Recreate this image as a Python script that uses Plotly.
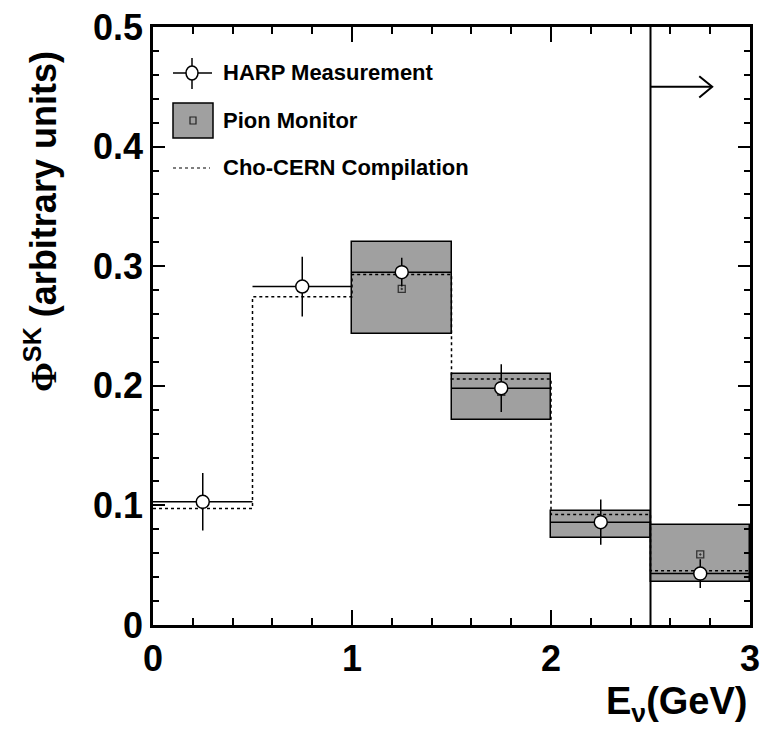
import plotly.graph_objects as go

# Energy binning (GeV)
bin_edges = [0.0, 0.5, 1.0, 1.5, 2.0, 2.5, 3.0]
bin_centers = [0.25, 0.75, 1.25, 1.75, 2.25, 2.75]
half_width = [0.25, 0.25, 0.25, 0.25, 0.25, 0.25]

# HARP measurement of the far-detector flux
harp_flux = [0.103, 0.283, 0.295, 0.198, 0.086, 0.043]
harp_err = [0.024, 0.025, 0.012, 0.020, 0.019, 0.012]

# Pion monitor (only above 1 GeV)
pion_centers = [1.25, 1.75, 2.25, 2.75]
pion_flux = [0.281, 0.195, 0.085, 0.059]
pion_low = [0.243, 0.171, 0.0725, 0.036]
pion_high = [0.320, 0.210, 0.095, 0.084]

# Cho-CERN compilation
cho_flux = [0.0975, 0.2745, 0.293, 0.2057, 0.0923, 0.0454]

# Threshold marker
threshold_e = 2.5
arrow_y = 0.45
arrow_end = 2.81

x_ticks = [0, 1, 2, 3]
x_ticktext = ["0", "1", "2", "3"]
y_ticks = [0, 0.1, 0.2, 0.3, 0.4, 0.5]
y_ticktext = ["0", "0.1", "0.2", "0.3", "0.4", "0.5"]

W, H = 760, 733
ML, MR, MT, MB = 153, 10, 27, 108
GRAY = "#a0a0a0"
FONT = "Liberation Sans, Arial, sans-serif"


def px(xp):
    return (xp - ML) / (W - ML - MR)


def py(yp):
    return (H - MB - yp) / (H - MT - MB)


fig = go.Figure()

# Pion monitor error boxes
fig.add_trace(go.Bar(
    x=pion_centers,
    base=pion_low,
    y=[h - l for h, l in zip(pion_high, pion_low)],
    width=0.5,
    marker=dict(color=GRAY, line=dict(color="black", width=1.5)),
    showlegend=False,
    hoverinfo="skip",
))

# Cho-CERN step histogram
fig.add_trace(go.Scatter(
    x=bin_edges,
    y=cho_flux + [cho_flux[-1]],
    mode="lines",
    line=dict(color="black", width=1.5, dash="dot", shape="hv"),
    showlegend=False,
))

# Pion monitor central values
fig.add_trace(go.Scatter(
    x=pion_centers,
    y=pion_flux,
    mode="markers",
    marker=dict(symbol="square-open-dot", size=7, color="#333333",
                line=dict(width=1.3)),
    showlegend=False,
))

# HARP points
fig.add_trace(go.Scatter(
    x=bin_centers,
    y=harp_flux,
    mode="markers",
    error_x=dict(type="data", array=half_width, width=0, thickness=1.5,
                 color="black"),
    error_y=dict(type="data", array=harp_err, width=0, thickness=1.5,
                 color="black"),
    marker=dict(symbol="circle", size=13, color="white",
                line=dict(color="black", width=1.5)),
    showlegend=False,
))

# Threshold line and arrow
fig.add_trace(go.Scatter(
    x=[threshold_e, threshold_e],
    y=[0, 0.5],
    mode="lines",
    line=dict(color="black", width=2),
    showlegend=False,
))
head_dx = 0.065
head_dy = 0.0089
fig.add_trace(go.Scatter(
    x=[threshold_e, arrow_end, None,
       arrow_end - head_dx, arrow_end, arrow_end - head_dx],
    y=[arrow_y, arrow_y, None,
       arrow_y + head_dy, arrow_y, arrow_y - head_dy],
    mode="lines",
    line=dict(color="black", width=2),
    showlegend=False,
))

# Hand-drawn legend
shapes = []
# HARP entry
shapes.append(dict(type="line", xref="paper", yref="paper",
                   x0=px(173), x1=px(212), y0=py(73), y1=py(73),
                   line=dict(color="black", width=1.5)))
shapes.append(dict(type="line", xref="paper", yref="paper",
                   x0=px(192), x1=px(192), y0=py(58), y1=py(89),
                   line=dict(color="black", width=1.5)))
shapes.append(dict(type="circle", xref="paper", yref="paper",
                   x0=px(186), x1=px(198), y0=py(66), y1=py(80),
                   fillcolor="white", line=dict(color="black", width=1.5)))
# Pion monitor entry
shapes.append(dict(type="rect", xref="paper", yref="paper",
                   x0=px(173), x1=px(213), y0=py(103), y1=py(138),
                   fillcolor=GRAY, line=dict(color="black", width=1.5)))
shapes.append(dict(type="rect", xref="paper", yref="paper",
                   x0=px(190), x1=px(196), y0=py(117), y1=py(124),
                   fillcolor=GRAY, line=dict(color="#222222", width=1.2)))
# Cho-CERN entry
shapes.append(dict(type="line", xref="paper", yref="paper",
                   x0=px(173), x1=px(210), y0=py(168), y1=py(168),
                   line=dict(color="black", width=1.2, dash="dot")))

annotations = []
for label, yc in [("HARP Measurement", 73), ("Pion Monitor", 120),
                  ("Cho-CERN Compilation", 168)]:
    annotations.append(dict(
        text=label, xref="paper", yref="paper", x=px(221), y=py(yc),
        xanchor="left", yanchor="middle", showarrow=False,
        font=dict(family=FONT, size=22, color="black", weight="bold"),
    ))

# Axis titles
annotations.append(dict(
    text="E<sub>ν</sub>(GeV)", xref="paper", yref="paper",
    x=1.0, y=py(704), xanchor="right", yanchor="middle", showarrow=False,
    font=dict(family=FONT, size=38, color="black", weight="bold"),
))
annotations.append(dict(
    text="<span style=\"font-family:'Liberation Serif'\">Φ</span>"
         "<sup>SK</sup> (arbitrary units)",
    xref="paper", yref="paper", x=px(41), y=py(222),
    xanchor="center", yanchor="middle", textangle=-90, showarrow=False,
    font=dict(family=FONT, size=36, color="black", weight="bold"),
))

axis_common = dict(
    showgrid=False, zeroline=False, showline=True, linecolor="black",
    linewidth=2.5, mirror="ticks", ticks="inside", tickcolor="black",
    tickwidth=2, automargin=False, ticklabeloverflow="allow",
    tickfont=dict(family=FONT, size=36, color="black", weight="bold"),
)

fig.update_layout(
    width=W, height=H,
    margin=dict(l=ML, r=MR, t=MT, b=MB, autoexpand=False),
    paper_bgcolor="white", plot_bgcolor="white",
    barmode="overlay", bargap=0,
    shapes=shapes, annotations=annotations,
    xaxis=dict(range=[0, 3], tickvals=x_ticks, ticktext=x_ticktext,
               ticklen=15,
               minor=dict(dtick=0.2, ticklen=7, ticks="inside",
                          tickcolor="black", tickwidth=2),
               **axis_common),
    yaxis=dict(range=[0, 0.5], tickvals=y_ticks, ticktext=y_ticktext,
               ticklen=12,
               minor=dict(dtick=0.02, ticklen=6, ticks="inside",
                          tickcolor="black", tickwidth=2),
               **axis_common),
)

fig.write_html("out.html")
